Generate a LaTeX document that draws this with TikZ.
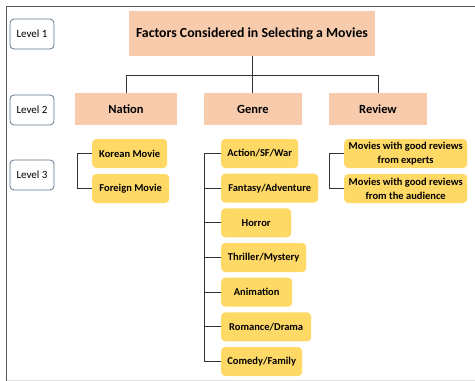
\documentclass[tikz,border=0pt]{standalone}
\usepackage{fontspec}
\setmainfont{Carlito}
\definecolor{peach}{HTML}{F8CBAD}
\definecolor{gold}{HTML}{FFD966}
\definecolor{slate}{HTML}{5E7691}
\begin{document}
\begin{tikzpicture}[x=1pt,y=-1pt,
    levelbox/.style={draw=slate,thick,rounded corners=4pt,fill=white,minimum width=44pt,minimum height=30pt,font=\fontsize{11}{12}\selectfont},
    catbox/.style={fill=peach,minimum height=32pt,font=\bfseries\fontsize{12.5}{14}\selectfont},
    itembox/.style={fill=gold,rounded corners=4pt,minimum height=29pt,inner sep=2pt,anchor=west,font=\bfseries\fontsize{10.5}{14}\selectfont},
    link/.style={draw=black!80,line width=1pt}]
    \useasboundingbox (0,0) rectangle (475,381);
    \fill[white] (0,0) rectangle (475,381);
    %% frame
    \draw[black!65,line width=1.8pt] (475,6.5) -- (6.5,6.5) -- (6.5,381);
    \draw[black!12,line width=1pt] (7,380) -- (475,380);
    %% levels
    \node[levelbox] (lv1) at (32,34) {Level 1};
    \node[levelbox] (lv2) at (32,110) {Level 2};
    \node[levelbox] (lv3) at (32,175) {Level 3};
    %% level 1 and 2
    \node[catbox,minimum width=246pt,minimum height=45pt,font=\bfseries\fontsize{13.8}{15}\selectfont] (title) at (252,33.5) {Factors Considered in Selecting a Movies};
    \node[catbox,minimum width=102pt] (nation) at (126,109) {Nation};
    \node[catbox,minimum width=98pt] (genre) at (253,109) {Genre};
    \node[catbox,minimum width=98pt] (review) at (378,109) {Review};
    \draw[link] (nation.north) -- ++(0,-17) -| (review.north);
    \draw[link] (title.south) -- (title.south |- genre.north);
    %% nation
    \node[itembox,minimum width=75pt] (korean) at (92,153.5) {Korean Movie};
    \node[itembox,minimum width=77pt] (foreign) at (92,188.5) {Foreign Movie};
    \draw[link] (korean.west) -- ++(-15,0) |- (foreign.west);
    %% genre
    \foreach \i/\w/\t in {1/77/{Action/SF/War},2/97/{Fantasy/Adventure},3/70/{Horror},4/85/{Thriller/Mystery},5/71/{Animation},6/90/{Romance/Drama},7/81/{Comedy/Family}}
        \node[itembox,minimum width=\w pt] (g\i) at (221,{153.5+34.67*(\i-1)}) {\t};
    \draw[link] (g1.west) -- ++(-17,0) |- (g7.west);
    \foreach \i in {2,...,6} \draw[link] (g\i.west) -- ++(-17,0);
    %% review
    \node[itembox,minimum width=123pt,align=center] (experts) at (344,153.5) {Movies with good reviews\\from experts};
    \node[itembox,minimum width=123pt,align=center] (audience) at (344,188.5) {Movies with good reviews\\from the audience};
    \draw[link] (experts.west) -- ++(-15,0) |- (audience.west);
\end{tikzpicture}
\end{document}
